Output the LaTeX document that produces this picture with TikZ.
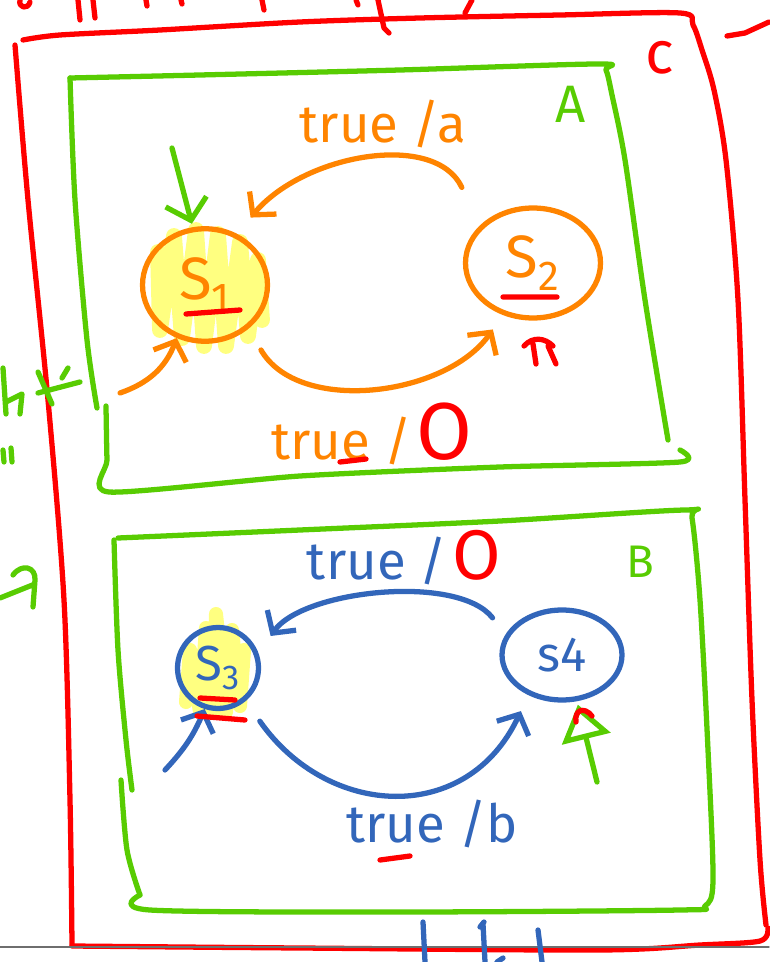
\documentclass[tikz,border=0pt]{standalone}
\usepackage{fontspec}
\setmainfont{Fira Sans}
\usetikzlibrary{arrows.meta,calc,shapes.geometric}

\definecolor{penred}{RGB}{255,0,0}
\definecolor{pengreen}{RGB}{88,204,2}
\definecolor{penorange}{RGB}{255,132,0}
\definecolor{penblue}{RGB}{50,102,186}
\definecolor{marker}{RGB}{255,255,128}
\definecolor{rule}{RGB}{110,110,110}

\begin{document}
\begin{tikzpicture}[x=0.02cm,y=-0.02cm,line cap=round,line join=round,
    pen/.style={line width=3pt},
    state/.style={ellipse,draw,line width=3pt,inner sep=0pt},
    lbl/.style={font=\fontsize{30}{30}\selectfont,inner sep=0pt},
    tip/.style={-{Straight Barb[length=9pt,width=20pt]}}]
  \useasboundingbox (0,0) rectangle (769,962);

  % outer region c
  \draw[pen,penred] plot[smooth,tension=0.5] coordinates {(23,40) (60,35) (160,30) (300,22) (420,18) (560,15) (680,13) (693,25) (702,50) (714,90) (726,160) (738,300) (745,500) (752,700) (760,860) (766,925)};
  \draw[pen,penred] plot[smooth,tension=0.5] coordinates {(15,45) (28,200) (48,400) (64,600) (70,800) (72,945)};
  \draw[pen,penred] plot[smooth,tension=0.5] coordinates {(72,946) (300,948) (600,950) (700,945) (760,941) (768,928)};
  \node[lbl,penred,font=\fontsize{34}{34}\selectfont] (lc) at (660,58) {c};

  % scraps along the edges
  \draw[line width=0.8pt,rule] (0,947) -- (769,947);
  \draw[pen,penred] (78,0) -- (80,20) (93,0) -- (95,18) (146,0) -- (147,6) (181,0) -- (182,4)
    (262,0) -- (264,10) (356,0) -- (358,5) (378,0) -- (384,28) -- (389,33) (472,0) -- (465,13)
    (20,0) .. controls (18,8) and (28,10) .. (30,2) (727,36) -- (745,33) -- (769,22);
  \draw[pen,pengreen] (3,368) -- (6,414) (6,402) -- (22,394) -- (20,414) (38,372) -- (52,404)
    (38,393) -- (80,382) (62,378) -- (68,368) (3,450) -- (4,462) (11,448) -- (12,462)
    (0,598) -- (35,584) (13,575) .. controls (22,563) and (36,567) .. (35,580) -- (33,607);
  \draw[pen,penblue] (423,922) -- (425,962) (483,924) -- (485,962) (538,930) -- (542,962)
    (480,927) -- (484,922) (497,962) -- (503,958);

  % box A
  \draw[pen,pengreen] plot[smooth,tension=0.5] coordinates {(70,78) (200,75) (400,70) (598,64) (606,70) (612,95) (625,160) (645,300) (668,440)};
  \draw[pen,pengreen] plot[smooth,tension=0.5] coordinates {(70,78) (75,200) (87,340) (97,408)};
  \draw[pen,pengreen] plot[smooth,tension=0.4] coordinates {(106,406) (107,460) (109,492) (300,476) (500,467) (680,462) (680,450)};
  \node[lbl,pengreen] (la) at (571,104) {A};

  % box B
  \draw[pen,pengreen] plot[smooth,tension=0.5] coordinates {(118,538) (300,530) (500,521) (685,510) (692,518) (700,600) (708,750) (713,880) (705,906) (680,910) (400,912) (150,910) (140,895)};
  \draw[pen,pengreen] plot[smooth,tension=0.5] coordinates {(114,540) (118,650) (126,740) (132,790)};
  \draw[pen,pengreen] plot[smooth,tension=0.5] coordinates {(121,780) (127,850) (140,895)};
  \node[lbl,pengreen,font=\fontsize{26}{26}\selectfont] (lb) at (640,562) {B};

  % marker behind the initial states
  \draw[marker,line width=9pt] plot coordinates {(158,252) (160,330) (174,236) (182,338) (196,230) (204,346) (218,234) (226,346) (240,242) (248,336) (258,260) (262,320)};
  \draw[marker,line width=8pt] plot coordinates {(186,702) (190,650) (200,712) (206,628) (214,712) (216,614) (226,712) (232,630) (240,706) (244,650)};

  % states
  \node[state,draw=penorange,text=penorange,font=\fontsize{34}{34}\selectfont,minimum width=2.5cm,minimum height=2.25cm] (s1) at (205,285) {S\textsubscript{1}};
  \node[state,draw=penorange,text=penorange,font=\fontsize{34}{34}\selectfont,minimum width=2.7cm,minimum height=2.2cm] (s2) at (533,263) {S\textsubscript{2}};
  \node[state,draw=penblue,text=penblue,font=\fontsize{28}{28}\selectfont,minimum width=1.62cm,minimum height=1.62cm] (s3) at (218,668) {S\textsubscript{3}};
  \node[state,draw=penblue,text=penblue,font=\fontsize{28}{28}\selectfont,minimum width=2.4cm,minimum height=1.8cm] (s4) at (562,655) {s4};

  \coordinate (i1) at (120,393);
  \coordinate (i3) at (165,770);
  \coordinate (g1) at (172,148);
  \coordinate (g4) at (597,782);

  % transitions of A
  \draw[pen,penorange,tip,shorten <=24pt,shorten >=12pt] (s2.145) to[out=115,in=50,looseness=1.1] (s1.58);
  \draw[pen,penorange,tip,shorten <=14pt,shorten >=10pt] (s1.-45) to[out=-60,in=-125] (s2.-120);
  \draw[pen,penorange,tip] (i1) to[bend right=25] (s1.-118);
  \draw[pen,pengreen,-{Straight Barb[length=11pt,width=24pt]},shorten >=2pt] (g1) -- (s1.102);
  \node[lbl,penorange] (l1) at (383,124) {true /a};
  \node[lbl,penorange] (l2) at (372,434) {true /\kern3pt{\color{penred}\fontsize{46}{46}\selectfont O}};

  % transitions of B
  \draw[pen,penblue,tip,shorten <=12pt,shorten >=12pt] (s4.160) to[out=128,in=55,looseness=0.8] (s3.20);
  \draw[pen,penblue,tip,shorten <=14pt,shorten >=10pt] (s3.-50) to[out=-55,in=-115,looseness=1.3] (s4.-130);
  \draw[pen,penblue,tip] (i3) to[bend right=10] (s3.-108);
  \draw[pen,pengreen,-{Triangle[open,length=20pt,width=28pt]},shorten >=2pt] (g4) -- (s4.-72);
  \node[lbl,penblue] (l3) at (404,558) {true /\kern3pt{\color{penred}\fontsize{40}{40}\selectfont O}};
  \node[lbl,penblue] (l4) at (432,824) {true /b};

  % red ticks
  \draw[pen,penred] (186,314) -- (240,310) (503,297) -- (557,297)
    (200,698) -- (235,700) (197,716) -- (245,720)
    (340,462) -- (366,459) (380,860) -- (410,856)
    (524,346) .. controls (533,336) and (545,338) .. (553,346) (533,344) -- (536,364) (548,346) -- (556,364)
    (576,722) .. controls (574,710) and (584,706) .. (592,716);
\end{tikzpicture}
\end{document}
